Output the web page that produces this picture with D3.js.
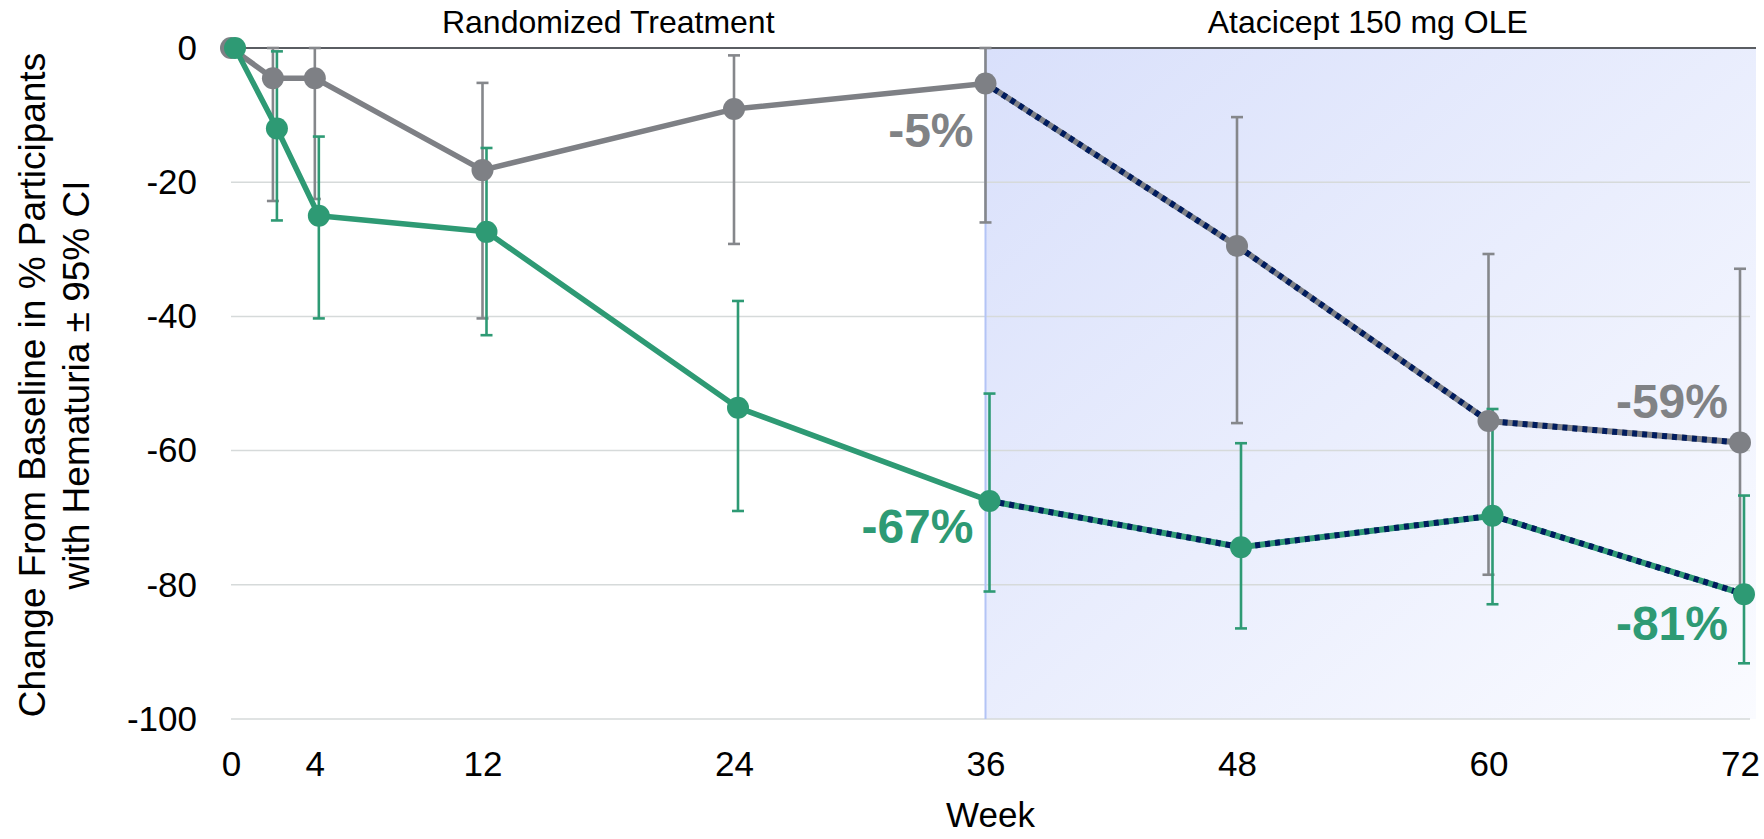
<!DOCTYPE html>
<html>
<head>
<meta charset="utf-8">
<script src="https://cdn.jsdelivr.net/npm/d3@7"></script>
<style>
  body { margin: 0; background: #fff; }
  svg { display: block; font-family: "Liberation Sans", Arial, sans-serif; }
</style>
</head>
<body>
<script>
// Weeks of follow-up
var weeks = [0, 2, 4, 12, 24, 36, 48, 60, 72];

// Placebo -> atacicept (gray)
var grayMean  = [0, -4.5, -4.5, -18.2, -9.1, -5.3, -29.5, -55.6, -58.8];
var grayUpper = [null, 0, 0, -5.2, -1.1, 0, -10.3, -30.7, -32.9];
var grayLower = [null, -22.8, -22.5, -40.3, -29.2, -26.0, -55.9, -78.5, -82.0];

// Atacicept 150 mg (green)
var greenMean  = [0, -12.0, -25.0, -27.4, -53.6, -67.5, -74.4, -69.7, -81.4];
var greenUpper = [null, -0.5, -13.2, -14.9, -37.7, -51.5, -58.9, -53.8, -66.7];
var greenLower = [null, -25.7, -40.3, -42.8, -69.0, -81.0, -86.5, -82.9, -91.7];

var xTicks = [0, 4, 12, 24, 36, 48, 60, 72];
var yTicks = [0, -20, -40, -60, -80, -100];
var oleStart = 36;

// value labels: [week, value, text]
var grayLabels  = [[36, -5.3, "-5%"], [72, -58.8, "-59%"]];
var greenLabels = [[36, -67.5, "-67%"], [72, -81.4, "-81%"]];

var width = 1764, height = 839;
var x0 = 231, x1 = 1740, plotRight = 1750;

var svg = d3.select("body").append("svg")
    .attr("width", width)
    .attr("height", height);

var x = d3.scaleLinear().domain([0, 72]).range([x0, x1]);
var y = d3.scaleLinear().domain([-100, 0]).range([719, 48]);

// gradient for open-label extension area
var defs = svg.append("defs");
var grad = defs.append("linearGradient")
    .attr("id", "oleGrad")
    .attr("x1", "0%").attr("y1", "0%")
    .attr("x2", "100%").attr("y2", "100%");
grad.append("stop").attr("offset", "0%").attr("stop-color", "#d9e0fb");
grad.append("stop").attr("offset", "100%").attr("stop-color", "#fafbff");

svg.append("rect")
    .attr("x", x(oleStart))
    .attr("y", y(0))
    .attr("width", plotRight + 6 - x(oleStart))
    .attr("height", y(-100) - y(0))
    .attr("fill", "url(#oleGrad)");

// gridlines
svg.append("g")
    .selectAll("line")
    .data(yTicks.filter(function (d) { return d !== 0; }))
    .enter().append("line")
    .attr("x1", x0).attr("x2", plotRight)
    .attr("y1", function (d) { return y(d); })
    .attr("y2", function (d) { return y(d); })
    .attr("stroke", "#d6dada")
    .attr("stroke-width", 1.5);

// boundary of OLE
svg.append("line")
    .attr("x1", x(oleStart)).attr("x2", x(oleStart))
    .attr("y1", y(0)).attr("y2", y(-100))
    .attr("stroke", "#b3c4f6")
    .attr("stroke-width", 2);

// zero line across top
svg.append("line")
    .attr("x1", x0).attr("x2", plotRight + 6)
    .attr("y1", y(0)).attr("y2", y(0))
    .attr("stroke", "#5a5d62")
    .attr("stroke-width", 2);

// y axis
var yAxis = svg.append("g")
    .attr("transform", "translate(" + (x0 - 16) + ",0)")
    .call(d3.axisLeft(y).tickValues(yTicks).tickSize(0).tickPadding(18)
        .tickFormat(function (d) { return String(d); }));
yAxis.select(".domain").remove();
yAxis.selectAll("text")
    .style("font-size", "35px")
    .attr("fill", "#000")
    .style("font-family", "'Liberation Sans', Arial, sans-serif");

// x axis
var xAxis = svg.append("g")
    .attr("transform", "translate(0," + (y(-100) + 18) + ")")
    .call(d3.axisBottom(x).tickValues(xTicks).tickSize(0).tickPadding(14));
xAxis.select(".domain").remove();
xAxis.selectAll("text")
    .style("font-size", "35px")
    .attr("fill", "#000")
    .style("font-family", "'Liberation Sans', Arial, sans-serif");

// axis titles
svg.append("text")
    .attr("x", (x0 + plotRight) / 2)
    .attr("y", 827)
    .attr("text-anchor", "middle")
    .style("font-size", "35px")
    .text("Week");

var yTitle = svg.append("text")
    .attr("transform", "translate(0,385) rotate(-90)")
    .attr("text-anchor", "middle")
    .style("font-size", "37px");
yTitle.append("tspan").attr("x", 0).attr("y", 45).text("Change From Baseline in % Participants");
yTitle.append("tspan").attr("x", 0).attr("y", 89).text("with Hematuria \u00b1 95% CI");

// period headers
svg.append("text")
    .attr("x", (x(0) + x(oleStart)) / 2)
    .attr("y", 33)
    .attr("text-anchor", "middle")
    .style("font-size", "32px")
    .text("Randomized Treatment");

svg.append("text")
    .attr("x", (x(oleStart) + plotRight) / 2)
    .attr("y", 33)
    .attr("text-anchor", "middle")
    .style("font-size", "32px")
    .text("Atacicept 150 mg OLE");

function drawSeries(mean, color, dx) {
    var g = svg.append("g").attr("transform", "translate(" + dx + ",0)");
    var pts = weeks.map(function (w, i) {
        return { w: w, m: mean[i] };
    });
    var line = d3.line()
        .x(function (d) { return x(d.w); })
        .y(function (d) { return y(d.m); });

    var before = pts.filter(function (d) { return d.w <= oleStart; });
    var after = pts.filter(function (d) { return d.w >= oleStart; });

    g.append("path").datum(before)
        .attr("d", line).attr("fill", "none")
        .attr("stroke", color).attr("stroke-width", 5.5)
        .attr("stroke-linejoin", "round");
    // OLE segment: coloured line with navy dashes over it
    g.append("path").datum(after)
        .attr("d", line).attr("fill", "none")
        .attr("stroke", color).attr("stroke-width", 6);
    g.append("path").datum(after)
        .attr("d", line).attr("fill", "none")
        .attr("stroke", "#001c5e").attr("stroke-width", 6)
        .attr("stroke-dasharray", "5,5");

    g.selectAll("circle")
        .data(pts)
        .enter().append("circle")
        .attr("cx", function (d) { return x(d.w); })
        .attr("cy", function (d) { return y(d.m); })
        .attr("r", 11)
        .attr("fill", color);
}

function drawBars(upper, lower, barColor, dx) {
    var g = svg.append("g").attr("transform", "translate(" + dx + ",0)");
    var pts = weeks.map(function (w, i) {
        return { w: w, u: upper[i], l: lower[i] };
    }).filter(function (d) { return d.u !== null; });
    g.selectAll(".bar")
        .data(pts)
        .enter().append("line")
        .attr("x1", function (d) { return x(d.w); })
        .attr("x2", function (d) { return x(d.w); })
        .attr("y1", function (d) { return y(d.u); })
        .attr("y2", function (d) { return y(d.l); })
        .attr("stroke", barColor).attr("stroke-width", 2.6);
    ["u", "l"].forEach(function (k) {
        g.selectAll(".cap" + k)
            .data(pts)
            .enter().append("line")
            .attr("x1", function (d) { return x(d.w) - 6; })
            .attr("x2", function (d) { return x(d.w) + 6; })
            .attr("y1", function (d) { return y(d[k]); })
            .attr("y2", function (d) { return y(d[k]); })
            .attr("stroke", barColor).attr("stroke-width", 2.6);
    });
}

var gray = "#7e8085", green = "#2e9a74";

drawBars(grayUpper, grayLower, "#85878b", 0);
drawBars(greenUpper, greenLower, green, 4);
drawSeries(grayMean, gray, 0);
drawSeries(greenMean, green, 4);

// value labels
function drawLabels(labels, color, dy) {
    svg.selectAll(null)
        .data(labels)
        .enter().append("text")
        .attr("x", function (d) { return x(d[0]) - 12; })
        .attr("y", function (d, i) { return y(d[1]) + dy[i]; })
        .attr("text-anchor", "end")
        .style("font-size", "48px")
        .style("font-weight", "bold")
        .attr("fill", color)
        .text(function (d) { return d[2]; });
}
drawLabels(grayLabels, "#808285", [63, -25]);
drawLabels(greenLabels, "#2e9a74", [42, 46]);
</script>
</body>
</html>
